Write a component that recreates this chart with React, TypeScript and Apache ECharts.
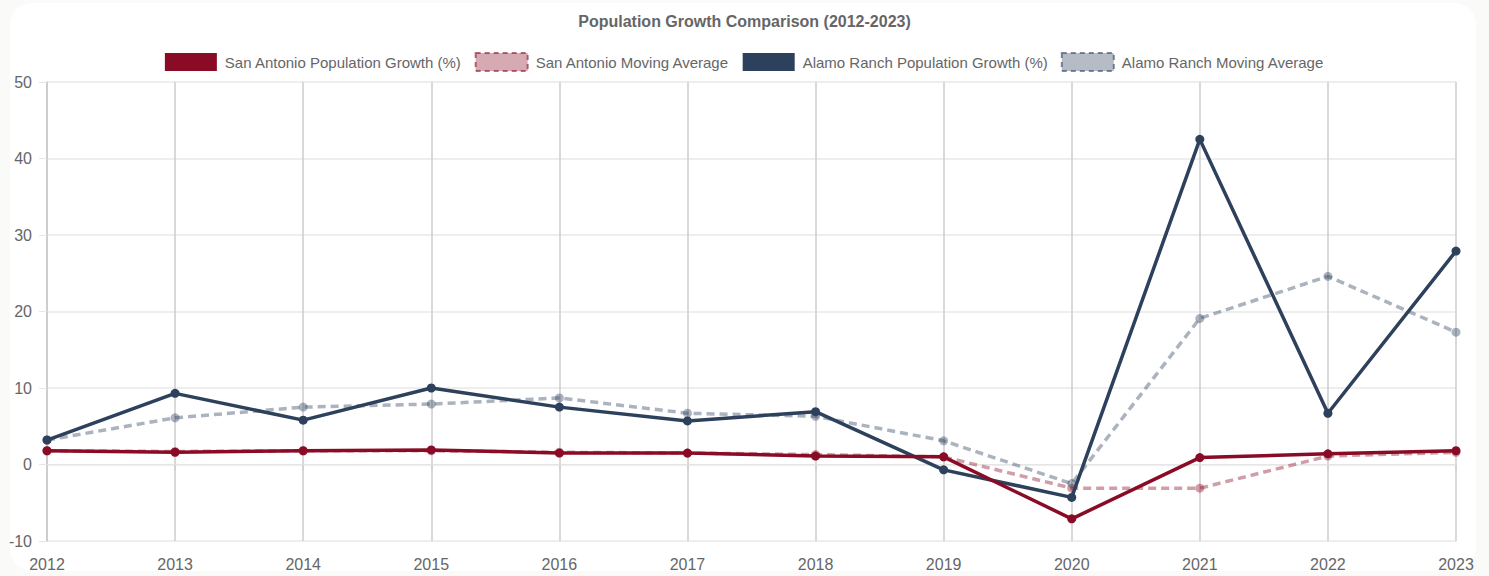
import React, { useEffect, useRef } from "react";
import * as echarts from "echarts";

const years = ["2012", "2013", "2014", "2015", "2016", "2017", "2018", "2019", "2020", "2021", "2022", "2023"];
const saGrowth = [1.8, 1.6, 1.8, 1.9, 1.5, 1.5, 1.1, 1.0, -7.1, 0.9, 1.4, 1.8];
const saMovingAvg = [1.8, 1.7, 1.8, 1.8, 1.6, 1.5, 1.3, 1.0, -3.1, -3.1, 1.1, 1.6];
const arGrowth = [3.2, 9.3, 5.8, 10.0, 7.5, 5.7, 6.9, -0.7, -4.3, 42.5, 6.7, 27.9];
const arMovingAvg = [3.2, 6.1, 7.5, 7.9, 8.7, 6.7, 6.3, 3.1, -2.5, 19.1, 24.6, 17.3];

const seriesNames = [
  "San Antonio Population Growth (%)",
  "San Antonio Moving Average",
  "Alamo Ranch Population Growth (%)",
  "Alamo Ranch Moving Average",
];

const SA = "#8a0b26";
const SA_FADE = "rgba(138,11,38,0.4)";
const AR = "#2d405c";
const AR_FADE = "rgba(45,64,92,0.4)";
const FONT = "'Liberation Sans', Arial, Helvetica, sans-serif";

export default function App() {
  const ref = useRef<HTMLDivElement>(null);
  useEffect(() => {
    const chart = echarts.init(ref.current!, null, { renderer: "svg" });
    chart.setOption({
      animation: false,
      backgroundColor: "#fafaf8",
      textStyle: { fontFamily: FONT },
      graphic: [
        {
          type: "rect",
          z: -10,
          shape: { x: 10, y: 3, width: 1466, height: 568, r: 22 },
          style: { fill: "#ffffff" },
        },
      ],
      title: {
        text: "Population Growth Comparison (2012-2023)",
        left: "center",
        top: 8,
        textStyle: { fontFamily: FONT, fontSize: 16, fontWeight: "bold", color: "#666" },
      },
      legend: {
        top: 47,
        left: "center",
        itemWidth: 52,
        itemHeight: 18,
        itemGap: 13,
        textStyle: { fontFamily: FONT, fontSize: 15, color: "#666", padding: [0, 0, 0, 3] },
        data: [
          { name: seriesNames[0], icon: "rect", itemStyle: { color: SA, borderColor: SA, borderWidth: 0 } },
          {
            name: seriesNames[1],
            icon: "rect",
            itemStyle: { color: "rgba(138,11,38,0.35)", borderColor: "rgba(138,11,38,0.6)", borderWidth: 2, borderType: [5, 4] },
          },
          { name: seriesNames[2], icon: "rect", itemStyle: { color: AR, borderColor: AR, borderWidth: 0 } },
          {
            name: seriesNames[3],
            icon: "rect",
            itemStyle: { color: "rgba(45,64,92,0.35)", borderColor: "rgba(45,64,92,0.6)", borderWidth: 2, borderType: [5, 4] },
          },
        ],
      },
      grid: { left: 47, right: 33, top: 82, bottom: 35, containLabel: false },
      xAxis: {
        type: "category",
        data: years,
        boundaryGap: false,
        axisLine: { show: true, lineStyle: { color: "#e6e6e6", width: 1 } },
        axisTick: { show: true, length: 6, lineStyle: { color: "#cfcfcf", width: 1.5 } },
        axisLabel: { color: "#666", fontSize: 16, fontFamily: FONT, margin: 15 },
        splitLine: { show: true, lineStyle: { color: "#cdcdcd", width: 1.5 } },
      },
      yAxis: {
        type: "value",
        min: -10,
        max: 50,
        interval: 10,
        axisLine: { show: true, lineStyle: { color: "#c8c8c8", width: 1.5 } },
        axisTick: { show: true, length: 8, lineStyle: { color: "#e6e6e6" } },
        axisLabel: { color: "#666", fontSize: 16, fontFamily: FONT, margin: 15 },
        splitLine: { show: true, lineStyle: { color: "#e9e9e9", width: 1.5 } },
      },
      series: [
        {
          name: seriesNames[0],
          type: "line",
          data: saGrowth,
          z: 4,
          symbol: "circle",
          symbolSize: 9,
          lineStyle: { color: SA, width: 3.5 },
          itemStyle: { color: SA },
        },
        {
          name: seriesNames[1],
          type: "line",
          data: saMovingAvg,
          z: 2,
          symbol: "circle",
          symbolSize: 9,
          lineStyle: { color: SA_FADE, width: 3.5, type: [8, 5] },
          itemStyle: { color: SA_FADE },
        },
        {
          name: seriesNames[2],
          type: "line",
          data: arGrowth,
          z: 3,
          symbol: "circle",
          symbolSize: 9,
          lineStyle: { color: AR, width: 3.5 },
          itemStyle: { color: AR },
        },
        {
          name: seriesNames[3],
          type: "line",
          data: arMovingAvg,
          z: 2,
          symbol: "circle",
          symbolSize: 9,
          lineStyle: { color: AR_FADE, width: 3.5, type: [8, 5] },
          itemStyle: { color: AR_FADE },
        },
      ],
    });
    return () => chart.dispose();
  }, []);
  return (
    <div
      ref={ref}
      style={{ position: "absolute", left: 0, top: 0, width: 1489, height: 576 }}
    />
  );
}
